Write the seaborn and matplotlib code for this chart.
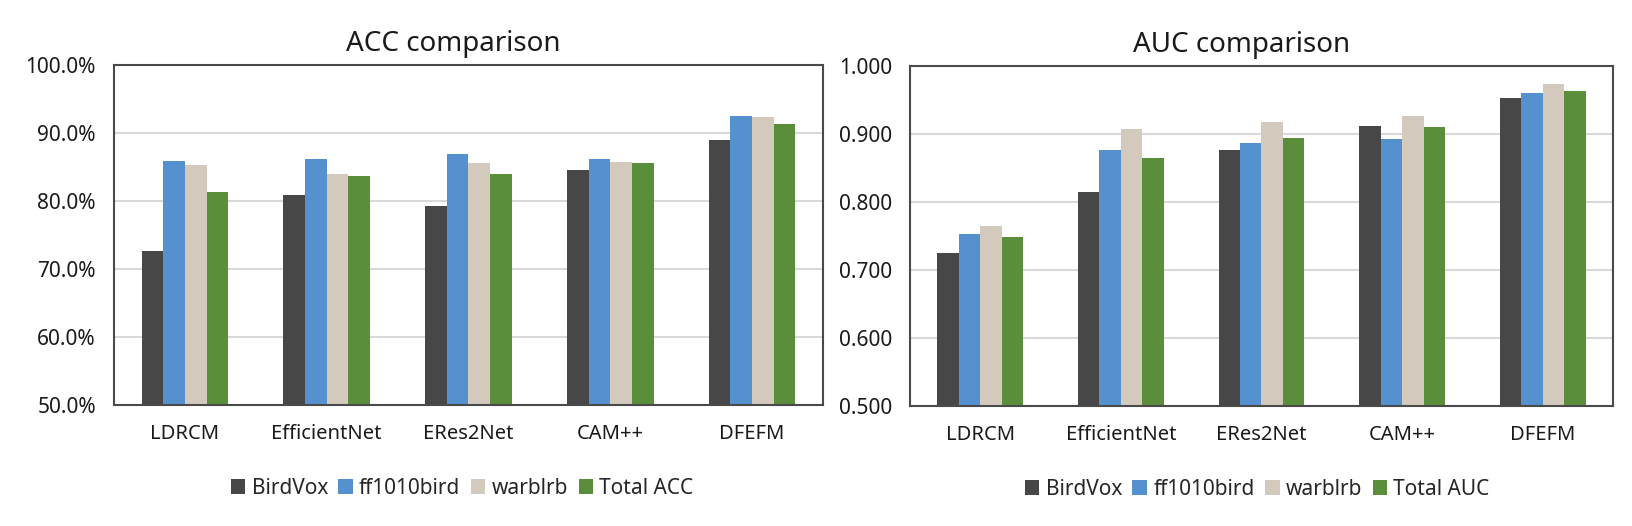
import numpy as np
import pandas as pd
import matplotlib
matplotlib.use("Agg")
import matplotlib.pyplot as plt
from matplotlib.ticker import FuncFormatter
import seaborn as sns

# values
models = ['LDRCM', 'EfficientNet', 'ERes2Net', 'CAM++', 'DFEFM']
datasets = ['BirdVox', 'ff1010bird', 'warblrb']

acc_birdvox = [0.726, 0.809, 0.793, 0.846, 0.890]
acc_ff1010 = [0.859, 0.862, 0.869, 0.862, 0.925]
acc_warblrb = [0.853, 0.840, 0.856, 0.858, 0.923]
acc_total = [0.813, 0.837, 0.840, 0.856, 0.913]

auc_birdvox = [0.725, 0.814, 0.876, 0.912, 0.953]
auc_ff1010 = [0.753, 0.876, 0.887, 0.892, 0.961]
auc_warblrb = [0.764, 0.908, 0.917, 0.927, 0.973]
auc_total = [0.748, 0.865, 0.894, 0.910, 0.963]

colors = ['#474747', '#5591CF', '#D3C9BC', '#5B8E3A']


def long_table(series, names):
    """build a long dataframe for seaborn from a list of series"""
    rows = []
    for name, vals in zip(names, series):
        for m, v in zip(models, vals):
            rows.append({'model': m, 'dataset': name, 'value': v})
    return pd.DataFrame(rows)


acc_df = long_table([acc_birdvox, acc_ff1010, acc_warblrb, acc_total], datasets + ['Total ACC'])
auc_df = long_table([auc_birdvox, auc_ff1010, auc_warblrb, auc_total], datasets + ['Total AUC'])

sns.set_style('white')
plt.rcParams['font.family'] = ['Noto Sans', 'DejaVu Sans']

fig = plt.figure(figsize=(16.33, 5.26), dpi=100)
ax1 = fig.add_axes([114 / 1633, 1 - 405 / 526, 709 / 1633, 340 / 526])
ax2 = fig.add_axes([910 / 1633, 1 - 406 / 526, 703 / 1633, 340 / 526])


def draw(ax, df, title, fmt, title_x, leg_x):
    sns.barplot(data=df, x='model', y='value', hue='dataset', palette=colors,
                width=0.61, gap=0, saturation=1, ax=ax, errorbar=None,
                linewidth=0, edgecolor='none')
    ax.set_ylim(0.5, 1.0)
    ax.set_yticks(np.arange(0.5, 1.01, 0.1))
    ax.yaxis.set_major_formatter(FuncFormatter(fmt))
    ax.grid(axis='y', color='#D9D9D9', linewidth=1.5)
    ax.set_axisbelow(True)
    for s in ax.spines.values():
        s.set_color('#4A4A4A')
        s.set_linewidth(1.5)
    ax.tick_params(axis='both', length=0, colors='#1A1A1A')
    ax.tick_params(axis='y', labelsize=15, pad=13)
    ax.tick_params(axis='x', labelsize=14.5, pad=14)
    ax.set_xlabel('')
    ax.set_ylabel('')
    # title is centred on the whole chart area, a bit left of the plot centre
    ax.set_title(title, fontsize=20, pad=10, color='#1A1A1A', x=title_x)
    ax.legend(loc='center', bbox_to_anchor=(leg_x, -0.245), ncol=4, frameon=False,
              fontsize=15, handlelength=0.7, handleheight=0.7, handletextpad=0.3,
              columnspacing=0.5)


draw(ax1, acc_df, 'ACC comparison', lambda v, p: f'{v * 100:.1f}%', 0.478, 0.491)
draw(ax2, auc_df, 'AUC comparison', lambda v, p: f'{v:.3f}', 0.472, 0.494)

plt.savefig('out.png', dpi=100)
